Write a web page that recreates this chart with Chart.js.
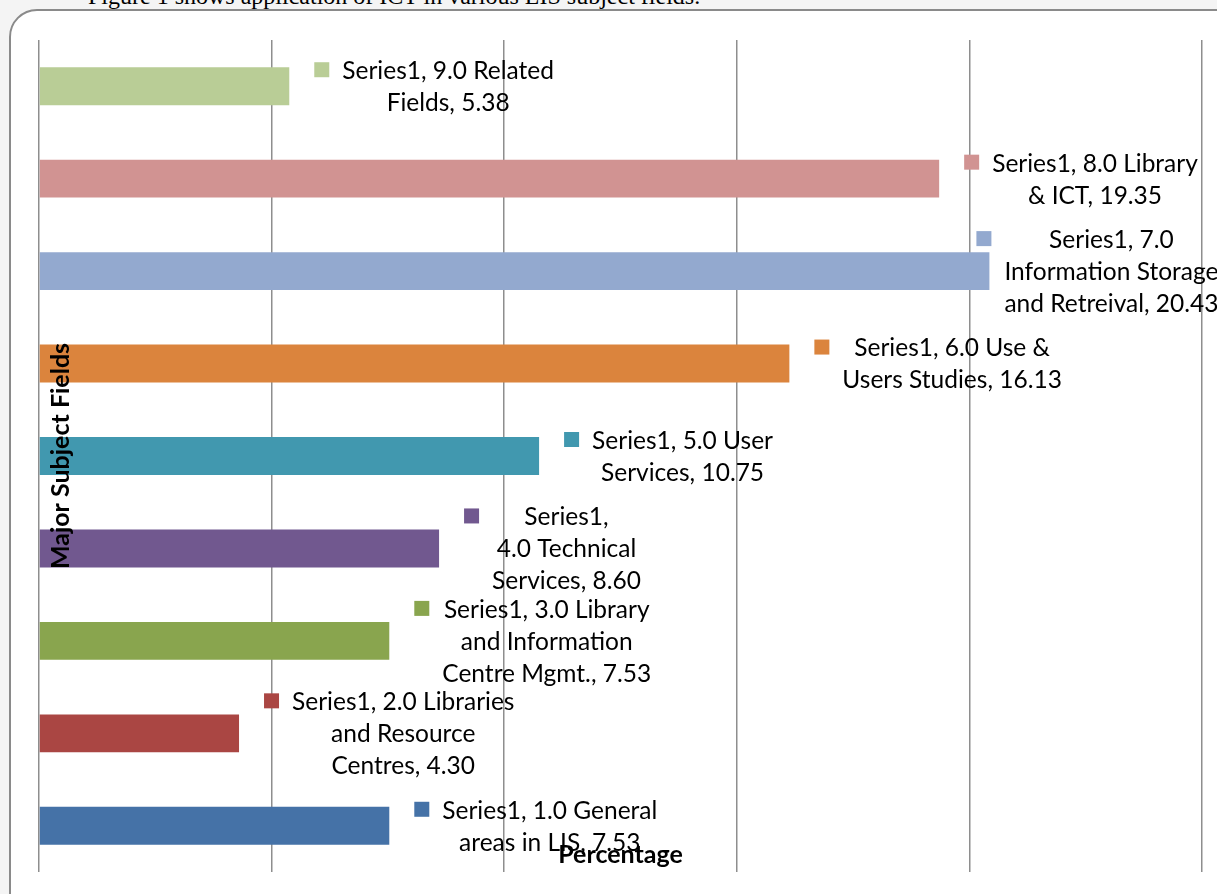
<!DOCTYPE html>
<html>
<head>
<meta charset="utf-8">
<script src="https://cdn.jsdelivr.net/npm/chart.js@4/dist/chart.umd.min.js"></script>
<style>
  html, body { margin: 0; padding: 0; background: #f4f4f4; overflow: hidden; }
  #caption { position: absolute; left: 88px; top: -17px; font: 24px "Liberation Serif", serif; color: #000; white-space: nowrap; }
  #frame { position: absolute; left: 9px; top: 9px; width: 1240px; height: 910px; background: #fff;
           border: 2px solid #8a8a8a; border-radius: 28px; }
  #wrap { position: absolute; left: 0; top: 0; width: 1217px; height: 894px; }
</style>
</head>
<body>
<div id="caption">Figure 1 shows application of ICT in various LIS subject fields.</div>
<div id="frame"></div>
<div id="wrap"><canvas id="myChart"></canvas></div>
<script>
// data, bottom to top
var categories = ['1.0 General areas in LIS', '2.0 Libraries and Resource Centres', '3.0 Library and Information Centre Mgmt.',
    '4.0 Technical Services', '5.0 User Services', '6.0 Use & Users Studies',
    '7.0 Information Storage and Retreival', '8.0 Library & ICT', '9.0 Related Fields'];
var values = [7.53, 4.30, 7.53, 8.60, 10.75, 16.13, 20.43, 19.35, 5.38];
var xTicks = [0, 5, 10, 15, 20, 25];

//label text as wrapped in the picture
var labelLines = [
    ['Series1, 1.0 General', 'areas in LIS, 7.53'],
    ['Series1, 2.0 Libraries', 'and Resource', 'Centres, 4.30'],
    ['Series1, 3.0 Library', 'and Information', 'Centre Mgmt., 7.53'],
    ['Series1,', '4.0 Technical', 'Services, 8.60'],
    ['Series1, 5.0 User', 'Services, 10.75'],
    ['Series1, 6.0 Use &', 'Users Studies, 16.13'],
    ['Series1, 7.0', 'Information Storage', 'and Retreival, 20.43'],
    ['Series1, 8.0 Library', '& ICT, 19.35'],
    ['Series1, 9.0 Related', 'Fields, 5.38']
];
var labelShift = [25, 25, 25, 25, 25, 25, -13, 25, 25];

var colors = ['#4572a7', '#aa4643', '#89a54e', '#71588f', '#4198af', '#db843d', '#93a9cf', '#d19392', '#b9cd96'];
var labelFont = '24.5px Lato';

var labelPlugin = {
    id: 'barLabels',
    afterDatasetsDraw: function(chart) {
        var ctx = chart.ctx;
        var meta = chart.getDatasetMeta(0);
        ctx.save();
        ctx.font = labelFont;
        ctx.textBaseline = 'middle';
        ctx.textAlign = 'center';
        meta.data.forEach(function(bar, i) {
            var lines = labelLines[i];
            var lh = 32;
            var sq = bar.x + labelShift[i];
            var top = bar.y - (lines.length - 1) * lh / 2;
            var w = Math.max.apply(null, lines.map(function(l) { return ctx.measureText(l).width; }));
            ctx.fillStyle = colors[i];
            ctx.fillRect(sq, top - 8, 15, 15);
            ctx.fillStyle = '#000';
            lines.forEach(function(l, k) {
                ctx.fillText(l, sq + 28 + w / 2, top + k * lh + 1);
            });
        });
        ctx.restore();
    },
    afterDraw: function(chart) {
        var ctx = chart.ctx;
        var area = chart.chartArea;
        ctx.save();
        ctx.font = 'bold 25px Lato';
        ctx.fillStyle = '#000';
        ctx.textAlign = 'center';
        ctx.textBaseline = 'middle';
        ctx.fillText('Percentage', (area.left + area.right) / 2, 855);
        ctx.translate(61, (area.top + area.bottom) / 2);
        ctx.rotate(-Math.PI / 2);
        ctx.fillText('Major Subject Fields', 0, 0);
        ctx.restore();
    }
};

var ctx = document.getElementById('myChart').getContext('2d');
var myChart = new Chart(ctx, {
    type: 'bar',
    data: {
        labels: categories,
        datasets: [{
            label: 'Series1',
            data: values,
            backgroundColor: colors,
            barPercentage: 0.41,
            categoryPercentage: 1
        }]
    },
    options: {
        indexAxis: 'y',
        responsive: true,
        maintainAspectRatio: false,
        animation: false,
        layout: { padding: { left: 39, right: 15, top: 40, bottom: 22 } },
        plugins: { legend: { display: false }, tooltip: { enabled: false } },
        scales: {
            x: {
                min: xTicks[0],
                max: xTicks[xTicks.length - 1],
                afterBuildTicks: function(axis) { axis.ticks = xTicks.map(function(v) { return { value: v }; }); },
                ticks: { display: false },
                grid: { color: '#8e8e8e', lineWidth: 1.5, drawTicks: false },
                border: { display: false }
            },
            y: {
                reverse: true,
                ticks: { display: false },
                grid: { display: false, drawTicks: false },
                border: { display: false }
            }
        }
    },
    plugins: [labelPlugin]
});
</script>
</body>
</html>
